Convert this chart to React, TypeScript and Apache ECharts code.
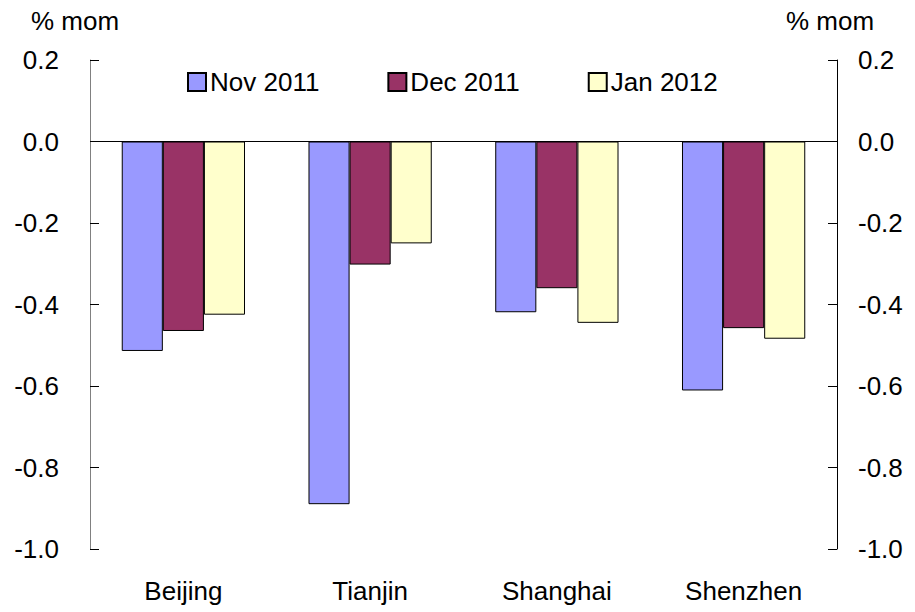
import React, { useEffect, useRef } from "react";
import * as echarts from "echarts";

const categories = ["Beijing", "Tianjin", "Shanghai", "Shenzhen"];
const nov2011 = [-0.514, -0.89, -0.419, -0.611];
const dec2011 = [-0.465, -0.302, -0.36, -0.458];
const jan2012 = [-0.425, -0.25, -0.445, -0.484];
const seriesNames = ["Nov 2011", "Dec 2011", "Jan 2012"];
const colors = ["#9999FF", "#993366", "#FFFFCC"];
const axisUnit = "% mom";

export default function App() {
  const ref = useRef<HTMLDivElement>(null);
  useEffect(() => {
    const chart = echarts.init(ref.current!, null, { renderer: "svg" });
    const font = "Liberation Sans, Arial, sans-serif";
    const fs = 26;
    const yAxisCommon = {
      type: "value",
      min: -1.0,
      max: 0.2,
      interval: 0.2,
      splitLine: { show: false },
      axisTick: { show: true, inside: true, length: 9, lineStyle: { color: "#000" } },
      axisLabel: {
        color: "#000",
        fontSize: fs,
        fontFamily: font,
        formatter: (v: number) => v.toFixed(1),
      },
    };
    const datas = [nov2011, dec2011, jan2012];
    chart.setOption({
      animation: false,
      backgroundColor: "#fff",
      grid: { left: 90, right: 78, top: 60, bottom: 63, containLabel: false },
      legend: {
        top: 64,
        left: 182,
        itemGap: 68,
        itemWidth: 18,
        itemHeight: 18,
        textStyle: { color: "#000", fontSize: fs, fontFamily: font, padding: [0, 0, 0, -1] },
        icon: "rect",
        data: seriesNames,
      },
      graphic: [
        {
          type: "text",
          left: 31,
          top: 8,
          style: { text: axisUnit, fill: "#000", fontSize: fs, fontFamily: font },
        },
        {
          type: "text",
          left: 786,
          top: 8,
          style: { text: axisUnit, fill: "#000", fontSize: fs, fontFamily: font },
        },
      ],
      xAxis: {
        type: "category",
        data: categories,
        position: "bottom",
        axisLine: { show: false, onZero: false },
        axisTick: { show: false },
        axisLabel: { color: "#000", fontSize: fs, fontFamily: font, margin: 29 },
      },
      yAxis: [
        {
          ...yAxisCommon,
          position: "left",
          axisLine: { show: true, lineStyle: { color: "#808080" } },
          axisLabel: { ...yAxisCommon.axisLabel, margin: 31 },
        },
        {
          ...yAxisCommon,
          position: "right",
          axisLine: { show: true, lineStyle: { color: "#000" } },
          axisLabel: { ...yAxisCommon.axisLabel, margin: 21 },
        },
      ],
      series: seriesNames.map((name, i) => ({
        name,
        type: "bar",
        data: datas[i],
        barGap: "0%",
        barCategoryGap: "34%",
        itemStyle: { color: colors[i], borderColor: "#000", borderWidth: 1 },
        ...(i === 0
          ? {
              markLine: {
                silent: true,
                symbol: "none",
                label: { show: false },
                lineStyle: { color: "#000", width: 1, type: "solid" },
                data: [{ yAxis: 0 }],
              },
            }
          : {}),
      })),
    });
    return () => chart.dispose();
  }, []);
  return (
    <div
      ref={ref}
      style={{ position: "fixed", left: 0, top: 0, width: 915, height: 612 }}
    />
  );
}
